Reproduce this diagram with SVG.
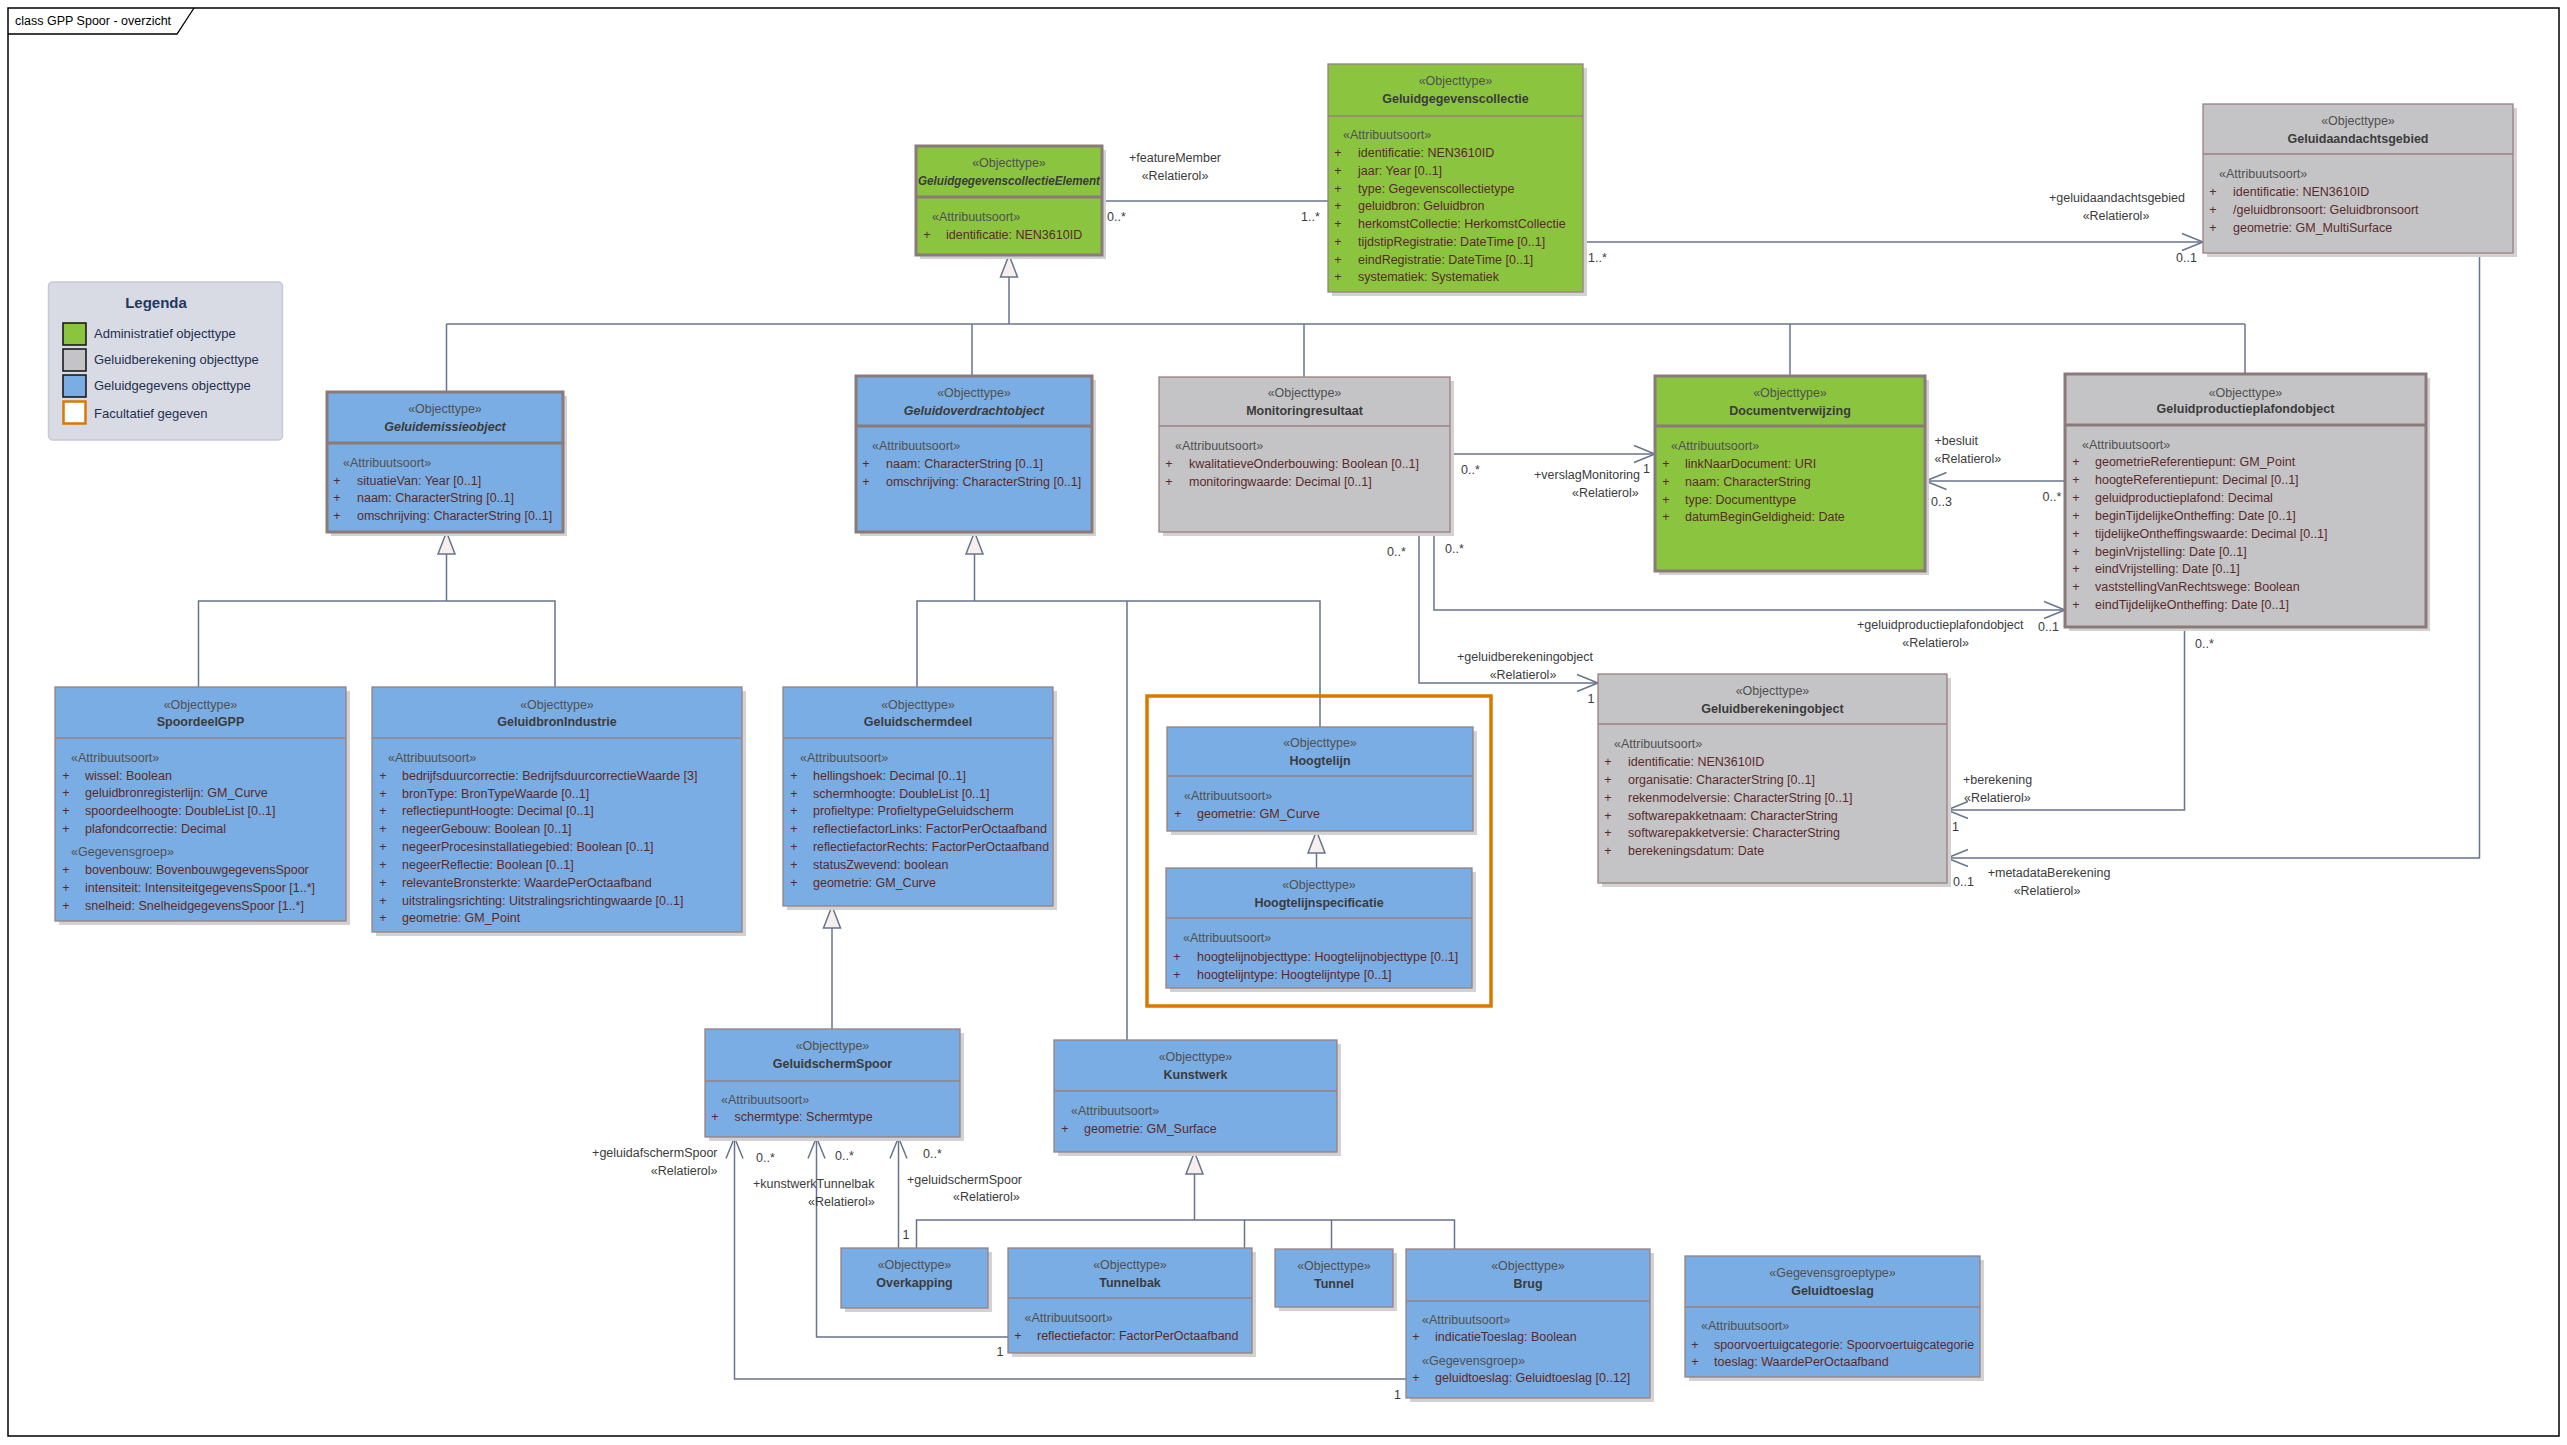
<svg xmlns="http://www.w3.org/2000/svg" width="2567" height="1445" viewBox="0 0 2567 1445">
<style>
text{font-family:"Liberation Sans",Arial,sans-serif;font-size:12.5px}
.st{fill:#505050;text-anchor:middle}
.nm{fill:#3b3b3b;font-weight:bold;text-anchor:middle}
.it{font-style:italic}
.sec{fill:#505050}
.pl{fill:#5a2a2a;text-anchor:middle}
.at{fill:#5a2a2a}
.lb{fill:#3b3b3b}
.lbm{fill:#3b3b3b;text-anchor:middle}
.sh{fill:#d2d2d2}
.g{fill:#8bc43f}
.b{fill:#7aade3}
.y{fill:#c4c4c6}
.thin{stroke:#9b8080;stroke-width:1.3}
.thick{stroke:#8b7a7a;stroke-width:3}
.dv{stroke:#9b8080;stroke-width:1.3}
.dvk{stroke:#8b7a7a;stroke-width:3}
.c{fill:none;stroke:#68738e;stroke-width:1.5}
.lg{font-size:13px;fill:#1f3050}
</style>
<defs>
<marker id="open" markerUnits="userSpaceOnUse" markerWidth="24" markerHeight="20" viewBox="0 0 24 20" refX="22" refY="10" orient="auto">
<path d="M1,1.5 L22,10 L1,18.5" fill="none" stroke="#68738e" stroke-width="1.5"/>
</marker>
<marker id="gen" markerUnits="userSpaceOnUse" markerWidth="26" markerHeight="20" viewBox="0 0 26 20" refX="23" refY="10" orient="auto">
<path d="M1,1.5 L23,10 L1,18.5 Z" fill="#f6efed" stroke="#68738e" stroke-width="1.5"/>
</marker>
</defs>
<rect x="0" y="0" width="2567" height="1445" fill="#ffffff"/>
<g id="frame">
<rect x="8" y="8" width="2551" height="1428" fill="#ffffff" stroke="#000" stroke-width="1.5"/>
<path d="M8,34 L177,34 L194,8" fill="none" stroke="#000" stroke-width="1.3"/>
<text x="15" y="25" fill="#000">class GPP Spoor - overzicht</text>
</g>

<g id="legenda">
<rect x="48.5" y="282" width="234" height="158" rx="4" fill="#d8dbe3" stroke="#c5c9d3" stroke-width="1.5"/>
<text x="156" y="308" text-anchor="middle" font-weight="bold" style="font-size:15px" fill="#1f3864">Legenda</text>
<rect x="63" y="323" width="23" height="22" fill="#8bc43f" stroke="#111" stroke-width="1.5"/>
<rect x="63" y="349" width="23" height="22" fill="#c4c4c6" stroke="#111" stroke-width="1.5"/>
<rect x="63" y="375" width="23" height="22" fill="#7aade3" stroke="#111" stroke-width="1.5"/>
<rect x="63.5" y="401.5" width="22" height="22" fill="#ffffff" stroke="#d97a00" stroke-width="2.5"/>
<text class="lg" x="94" y="338">Administratief objecttype</text>
<text class="lg" x="94" y="364">Geluidberekening objecttype</text>
<text class="lg" x="94" y="390">Geluidgegevens objecttype</text>
<text class="lg" x="94" y="418">Facultatief gegeven</text>
</g>

<g id="connectors">
<!-- generalizations top -->
<path class="c" d="M446.5,324 L2245,324"/>
<path class="c" d="M1009,324 L1009,255" marker-end="url(#gen)"/>
<path class="c" d="M446.5,324 L446.5,392"/>
<path class="c" d="M972,324 L972,376"/>
<path class="c" d="M1304,324 L1304,377"/>
<path class="c" d="M1790,324 L1790,376"/>
<path class="c" d="M2245,324 L2245,374"/>
<!-- Geluidemissieobject subtree -->
<path class="c" d="M446.5,601 L446.5,532" marker-end="url(#gen)"/>
<path class="c" d="M198.5,687 L198.5,601 L555,601 L555,687"/>
<!-- Geluidoverdrachtobject subtree -->
<path class="c" d="M974.5,601 L974.5,532" marker-end="url(#gen)"/>
<path class="c" d="M917,687 L917,601 L1320,601 L1320,727"/>
<path class="c" d="M1127,601 L1127,1040"/>
<!-- GeluidschermSpoor -> Geluidschermdeel -->
<path class="c" d="M832,1029 L832,906" marker-end="url(#gen)"/>
<!-- Hoogtelijnspecificatie -> Hoogtelijn -->
<path class="c" d="M1316.5,868 L1316.5,831" marker-end="url(#gen)"/>
<!-- Kunstwerk subtree -->
<path class="c" d="M1194.5,1220 L1194.5,1152" marker-end="url(#gen)"/>
<path class="c" d="M916.5,1248 L916.5,1220 L1454.5,1220 L1454.5,1249"/>
<path class="c" d="M1244.5,1220 L1244.5,1248"/>
<path class="c" d="M1331.5,1220 L1331.5,1249"/>

<!-- associations -->
<path class="c" d="M1102,201 L1328,201"/>
<text class="lbm" x="1175" y="162">+featureMember</text>
<text class="lbm" x="1175" y="180">«Relatierol»</text>
<text class="lb" x="1107" y="221">0..*</text>
<text class="lb" x="1301" y="221">1..*</text>

<path class="c" d="M1583,242 L2203,242" marker-end="url(#open)"/>
<text class="lb" x="1588" y="261.5">1..*</text>
<text class="lbm" x="2117" y="202">+geluidaandachtsgebied</text>
<text class="lbm" x="2116" y="219.5">«Relatierol»</text>
<text class="lb" x="2176" y="262">0..1</text>

<path class="c" d="M2479.5,253 L2479.5,858 L1947,858" marker-end="url(#open)"/>
<text class="lb" x="1953" y="886">0..1</text>
<text class="lbm" x="2049" y="877">+metadataBerekening</text>
<text class="lbm" x="2047" y="895">«Relatierol»</text>

<path class="c" d="M2184.5,627 L2184.5,810 L1947,810" marker-end="url(#open)"/>
<text class="lb" x="2195" y="648">0..*</text>
<text class="lb" x="1963" y="784">+berekening</text>
<text class="lb" x="1964" y="802">«Relatierol»</text>
<text class="lb" x="1952" y="830.5">1</text>

<path class="c" d="M2065,481 L1925.5,481" marker-end="url(#open)"/>
<text class="lb" x="1934.5" y="445">+besluit</text>
<text class="lb" x="1934.5" y="463">«Relatierol»</text>
<text class="lb" x="1931" y="506">0..3</text>
<text class="lb" x="2042.5" y="500.5">0..*</text>

<path class="c" d="M1450.5,454 L1655,454" marker-end="url(#open)"/>
<text class="lb" x="1461" y="474">0..*</text>
<text class="lb" x="1640" y="479" text-anchor="end">+verslagMonitoring</text>
<text class="lb" x="1572" y="497">«Relatierol»</text>
<text class="lb" x="1643" y="473">1</text>

<path class="c" d="M1434,532 L1434,610 L2065,610" marker-end="url(#open)"/>
<text class="lb" x="1445" y="553">0..*</text>
<text class="lb" x="2023.5" y="629" text-anchor="end">+geluidproductieplafondobject</text>
<text class="lb" x="1969" y="647" text-anchor="end">«Relatierol»</text>
<text class="lb" x="2038" y="631">0..1</text>

<path class="c" d="M1419,532 L1419,683 L1598,683" marker-end="url(#open)"/>
<text class="lb" x="1387" y="556">0..*</text>
<text class="lbm" x="1525" y="661">+geluidberekeningobject</text>
<text class="lbm" x="1523" y="679">«Relatierol»</text>
<text class="lb" x="1587.5" y="703">1</text>

<path class="c" d="M898.5,1248 L898.5,1137.5" marker-end="url(#open)"/>
<text class="lb" x="923" y="1158">0..*</text>
<text class="lb" x="907" y="1183.5">+geluidschermSpoor</text>
<text class="lb" x="953" y="1201">«Relatierol»</text>
<text class="lb" x="902.5" y="1238.5">1</text>

<path class="c" d="M1008,1337 L816.5,1337 L816.5,1137.5" marker-end="url(#open)"/>
<text class="lb" x="835" y="1159.5">0..*</text>
<text class="lb" x="753" y="1188">+kunstwerkTunnelbak</text>
<text class="lb" x="808" y="1206">«Relatierol»</text>
<text class="lb" x="996.5" y="1356">1</text>

<path class="c" d="M1406,1379 L734.5,1379 L734.5,1137.5" marker-end="url(#open)"/>
<text class="lb" x="756" y="1162">0..*</text>
<text class="lb" x="717.5" y="1157" text-anchor="end">+geluidafschermSpoor</text>
<text class="lb" x="717.5" y="1175" text-anchor="end">«Relatierol»</text>
<text class="lb" x="1394" y="1399">1</text>
</g>

<g id="n-GeluidgegevenscollectieElement">
<rect class="sh" x="920" y="150" width="186" height="109"/>
<rect class="g thick" x="916" y="146" width="186" height="109"/>
<line class="dvk" x1="916" y1="197" x2="1102" y2="197"/>
<text class="st" x="1009" y="167">«Objecttype»</text>
<text class="nm it" x="1009" y="185" textLength="182" lengthAdjust="spacingAndGlyphs">GeluidgegevenscollectieElement</text>
<text class="sec" x="932" y="221">«Attribuutsoort»</text>
<text class="pl" x="927" y="239">+</text><text class="at" x="946" y="239">identificatie: NEN3610ID</text>
</g>

<g id="n-Geluidgegevenscollectie">
<rect class="sh" x="1332" y="68" width="255" height="228"/>
<rect class="g thin" x="1328" y="64" width="255" height="228"/>
<line class="dv" x1="1328" y1="116" x2="1583" y2="116"/>
<text class="st" x="1455.5" y="85">«Objecttype»</text>
<text class="nm" x="1455.5" y="103">Geluidgegevenscollectie</text>
<text class="sec" x="1343" y="139">«Attribuutsoort»</text>
<text class="pl" x="1338" y="157">+</text><text class="at" x="1358" y="157">identificatie: NEN3610ID</text>
<text class="pl" x="1338" y="174.7">+</text><text class="at" x="1358" y="174.7">jaar: Year [0..1]</text>
<text class="pl" x="1338" y="192.5">+</text><text class="at" x="1358" y="192.5">type: Gegevenscollectietype</text>
<text class="pl" x="1338" y="210.2">+</text><text class="at" x="1358" y="210.2">geluidbron: Geluidbron</text>
<text class="pl" x="1338" y="228">+</text><text class="at" x="1358" y="228">herkomstCollectie: HerkomstCollectie</text>
<text class="pl" x="1338" y="245.7">+</text><text class="at" x="1358" y="245.7">tijdstipRegistratie: DateTime [0..1]</text>
<text class="pl" x="1338" y="263.5">+</text><text class="at" x="1358" y="263.5">eindRegistratie: DateTime [0..1]</text>
<text class="pl" x="1338" y="281.2">+</text><text class="at" x="1358" y="281.2">systematiek: Systematiek</text>
</g>

<g id="n-Geluidaandachtsgebied">
<rect class="sh" x="2207" y="108" width="310" height="149"/>
<rect class="y thin" x="2203" y="104" width="310" height="149"/>
<line class="dv" x1="2203" y1="154" x2="2513" y2="154"/>
<text class="st" x="2358" y="125">«Objecttype»</text>
<text class="nm" x="2358" y="142.5">Geluidaandachtsgebied</text>
<text class="sec" x="2219" y="178">«Attribuutsoort»</text>
<text class="pl" x="2213" y="196">+</text><text class="at" x="2233" y="196">identificatie: NEN3610ID</text>
<text class="pl" x="2213" y="214">+</text><text class="at" x="2233" y="214">/geluidbronsoort: Geluidbronsoort</text>
<text class="pl" x="2213" y="232">+</text><text class="at" x="2233" y="232">geometrie: GM_MultiSurface</text>
</g>

<g id="n-Geluidemissieobject">
<rect class="sh" x="331" y="396" width="236" height="140"/>
<rect class="b thick" x="327" y="392" width="236" height="140"/>
<line class="dvk" x1="327" y1="443" x2="563" y2="443"/>
<text class="st" x="445" y="413">«Objecttype»</text>
<text class="nm it" x="445" y="431">Geluidemissieobject</text>
<text class="sec" x="343" y="467">«Attribuutsoort»</text>
<text class="pl" x="337" y="485">+</text><text class="at" x="357" y="485">situatieVan: Year [0..1]</text>
<text class="pl" x="337" y="502">+</text><text class="at" x="357" y="502">naam: CharacterString [0..1]</text>
<text class="pl" x="337" y="520">+</text><text class="at" x="357" y="520">omschrijving: CharacterString [0..1]</text>
</g>

<g id="n-Geluidoverdrachtobject">
<rect class="sh" x="860" y="380" width="236" height="156"/>
<rect class="b thick" x="856" y="376" width="236" height="156"/>
<line class="dvk" x1="856" y1="426" x2="1092" y2="426"/>
<text class="st" x="974" y="397">«Objecttype»</text>
<text class="nm it" x="974" y="415">Geluidoverdrachtobject</text>
<text class="sec" x="872" y="450">«Attribuutsoort»</text>
<text class="pl" x="866" y="468">+</text><text class="at" x="886" y="468">naam: CharacterString [0..1]</text>
<text class="pl" x="866" y="486">+</text><text class="at" x="886" y="486">omschrijving: CharacterString [0..1]</text>
</g>

<g id="n-Monitoringresultaat">
<rect class="sh" x="1163" y="381" width="291" height="155"/>
<rect class="y thin" x="1159" y="377" width="291" height="155"/>
<line class="dv" x1="1159" y1="426" x2="1450" y2="426"/>
<text class="st" x="1304.5" y="397">«Objecttype»</text>
<text class="nm" x="1304.5" y="415">Monitoringresultaat</text>
<text class="sec" x="1175" y="450">«Attribuutsoort»</text>
<text class="pl" x="1169" y="468">+</text><text class="at" x="1189" y="468">kwalitatieveOnderbouwing: Boolean [0..1]</text>
<text class="pl" x="1169" y="486">+</text><text class="at" x="1189" y="486">monitoringwaarde: Decimal [0..1]</text>
</g>

<g id="n-Documentverwijzing">
<rect class="sh" x="1659" y="380" width="270" height="195"/>
<rect class="g thick" x="1655" y="376" width="270" height="195"/>
<line class="dvk" x1="1655" y1="426" x2="1925" y2="426"/>
<text class="st" x="1790" y="397">«Objecttype»</text>
<text class="nm" x="1790" y="415">Documentverwijzing</text>
<text class="sec" x="1671" y="450">«Attribuutsoort»</text>
<text class="pl" x="1666" y="468">+</text><text class="at" x="1685" y="468">linkNaarDocument: URI</text>
<text class="pl" x="1666" y="486">+</text><text class="at" x="1685" y="486">naam: CharacterString</text>
<text class="pl" x="1666" y="504">+</text><text class="at" x="1685" y="504">type: Documenttype</text>
<text class="pl" x="1666" y="521">+</text><text class="at" x="1685" y="521">datumBeginGeldigheid: Date</text>
</g>

<g id="n-Geluidproductieplafondobject">
<rect class="sh" x="2069" y="378" width="361" height="253"/>
<rect class="y thick" x="2065" y="374" width="361" height="253"/>
<line class="dvk" x1="2065" y1="425" x2="2426" y2="425"/>
<text class="st" x="2245.5" y="396.5">«Objecttype»</text>
<text class="nm" x="2245.5" y="413">Geluidproductieplafondobject</text>
<text class="sec" x="2082" y="449">«Attribuutsoort»</text>
<text class="pl" x="2076" y="466">+</text><text class="at" x="2095" y="466">geometrieReferentiepunt: GM_Point</text>
<text class="pl" x="2076" y="484">+</text><text class="at" x="2095" y="484">hoogteReferentiepunt: Decimal [0..1]</text>
<text class="pl" x="2076" y="502">+</text><text class="at" x="2095" y="502">geluidproductieplafond: Decimal</text>
<text class="pl" x="2076" y="520">+</text><text class="at" x="2095" y="520">beginTijdelijkeOntheffing: Date [0..1]</text>
<text class="pl" x="2076" y="538">+</text><text class="at" x="2095" y="538">tijdelijkeOntheffingswaarde: Decimal [0..1]</text>
<text class="pl" x="2076" y="556">+</text><text class="at" x="2095" y="556">beginVrijstelling: Date [0..1]</text>
<text class="pl" x="2076" y="573">+</text><text class="at" x="2095" y="573">eindVrijstelling: Date [0..1]</text>
<text class="pl" x="2076" y="591">+</text><text class="at" x="2095" y="591">vaststellingVanRechtswege: Boolean</text>
<text class="pl" x="2076" y="609">+</text><text class="at" x="2095" y="609">eindTijdelijkeOntheffing: Date [0..1]</text>
</g>

<g id="n-SpoordeelGPP">
<rect class="sh" x="59" y="691" width="291" height="234"/>
<rect class="b thin" x="55" y="687" width="291" height="234"/>
<line class="dv" x1="55" y1="738" x2="346" y2="738"/>
<text class="st" x="200.5" y="709">«Objecttype»</text>
<text class="nm" x="200.5" y="726">SpoordeelGPP</text>
<text class="sec" x="71" y="762">«Attribuutsoort»</text>
<text class="pl" x="66" y="780">+</text><text class="at" x="85" y="780">wissel: Boolean</text>
<text class="pl" x="66" y="797">+</text><text class="at" x="85" y="797">geluidbronregisterlijn: GM_Curve</text>
<text class="pl" x="66" y="815">+</text><text class="at" x="85" y="815">spoordeelhoogte: DoubleList [0..1]</text>
<text class="pl" x="66" y="833">+</text><text class="at" x="85" y="833">plafondcorrectie: Decimal</text>
<text class="sec" x="71" y="856">«Gegevensgroep»</text>
<text class="pl" x="66" y="874">+</text><text class="at" x="85" y="874">bovenbouw: BovenbouwgegevensSpoor</text>
<text class="pl" x="66" y="892">+</text><text class="at" x="85" y="892">intensiteit: IntensiteitgegevensSpoor [1..*]</text>
<text class="pl" x="66" y="910">+</text><text class="at" x="85" y="910">snelheid: SnelheidgegevensSpoor [1..*]</text>
</g>

<g id="n-GeluidbronIndustrie">
<rect class="sh" x="376" y="691" width="370" height="245"/>
<rect class="b thin" x="372" y="687" width="370" height="245"/>
<line class="dv" x1="372" y1="738" x2="742" y2="738"/>
<text class="st" x="557" y="709">«Objecttype»</text>
<text class="nm" x="557" y="726">GeluidbronIndustrie</text>
<text class="sec" x="388" y="762">«Attribuutsoort»</text>
<text class="pl" x="383" y="780">+</text><text class="at" x="402" y="780">bedrijfsduurcorrectie: BedrijfsduurcorrectieWaarde [3]</text>
<text class="pl" x="383" y="797.5">+</text><text class="at" x="402" y="797.5">bronType: BronTypeWaarde [0..1]</text>
<text class="pl" x="383" y="815">+</text><text class="at" x="402" y="815">reflectiepuntHoogte: Decimal [0..1]</text>
<text class="pl" x="383" y="833">+</text><text class="at" x="402" y="833">negeerGebouw: Boolean [0..1]</text>
<text class="pl" x="383" y="851">+</text><text class="at" x="402" y="851">negeerProcesinstallatiegebied: Boolean [0..1]</text>
<text class="pl" x="383" y="869">+</text><text class="at" x="402" y="869">negeerReflectie: Boolean [0..1]</text>
<text class="pl" x="383" y="886.5">+</text><text class="at" x="402" y="886.5">relevanteBronsterkte: WaardePerOctaafband</text>
<text class="pl" x="383" y="904.5">+</text><text class="at" x="402" y="904.5">uitstralingsrichting: Uitstralingsrichtingwaarde [0..1]</text>
<text class="pl" x="383" y="922">+</text><text class="at" x="402" y="922">geometrie: GM_Point</text>
</g>

<g id="n-Geluidschermdeel">
<rect class="sh" x="787" y="691" width="270" height="219"/>
<rect class="b thin" x="783" y="687" width="270" height="219"/>
<line class="dv" x1="783" y1="738" x2="1053" y2="738"/>
<text class="st" x="918" y="709">«Objecttype»</text>
<text class="nm" x="918" y="726">Geluidschermdeel</text>
<text class="sec" x="800" y="762">«Attribuutsoort»</text>
<text class="pl" x="794" y="780">+</text><text class="at" x="813" y="780">hellingshoek: Decimal [0..1]</text>
<text class="pl" x="794" y="797.5">+</text><text class="at" x="813" y="797.5">schermhoogte: DoubleList [0..1]</text>
<text class="pl" x="794" y="815">+</text><text class="at" x="813" y="815">profieltype: ProfieltypeGeluidscherm</text>
<text class="pl" x="794" y="833">+</text><text class="at" x="813" y="833" textLength="234" lengthAdjust="spacingAndGlyphs">reflectiefactorLinks: FactorPerOctaafband</text>
<text class="pl" x="794" y="851">+</text><text class="at" x="813" y="851" textLength="236" lengthAdjust="spacingAndGlyphs">reflectiefactorRechts: FactorPerOctaafband</text>
<text class="pl" x="794" y="869">+</text><text class="at" x="813" y="869">statusZwevend: boolean</text>
<text class="pl" x="794" y="886.5">+</text><text class="at" x="813" y="886.5">geometrie: GM_Curve</text>
</g>

<g id="n-Facultatief">
<rect x="1147" y="696" width="344" height="310" fill="none" stroke="#d97a00" stroke-width="3.5"/>
</g>

<g id="n-Hoogtelijn">
<rect class="sh" x="1171" y="731" width="306" height="104"/>
<rect class="b thin" x="1167" y="727" width="306" height="104"/>
<line class="dv" x1="1167" y1="776" x2="1473" y2="776"/>
<text class="st" x="1320" y="747">«Objecttype»</text>
<text class="nm" x="1320" y="765">Hoogtelijn</text>
<text class="sec" x="1184" y="800">«Attribuutsoort»</text>
<text class="pl" x="1178" y="818">+</text><text class="at" x="1197" y="818">geometrie: GM_Curve</text>
</g>

<g id="n-Hoogtelijnspecificatie">
<rect class="sh" x="1170" y="872" width="306" height="120"/>
<rect class="b thin" x="1166" y="868" width="306" height="120"/>
<line class="dv" x1="1166" y1="918" x2="1472" y2="918"/>
<text class="st" x="1319" y="889">«Objecttype»</text>
<text class="nm" x="1319" y="907">Hoogtelijnspecificatie</text>
<text class="sec" x="1183" y="942">«Attribuutsoort»</text>
<text class="pl" x="1177" y="960.5">+</text><text class="at" x="1197" y="960.5">hoogtelijnobjecttype: Hoogtelijnobjecttype [0..1]</text>
<text class="pl" x="1177" y="978.5">+</text><text class="at" x="1197" y="978.5">hoogtelijntype: Hoogtelijntype [0..1]</text>
</g>

<g id="n-Geluidberekeningobject">
<rect class="sh" x="1602" y="678" width="349" height="209"/>
<rect class="y thin" x="1598" y="674" width="349" height="209"/>
<line class="dv" x1="1598" y1="724" x2="1947" y2="724"/>
<text class="st" x="1772.5" y="695">«Objecttype»</text>
<text class="nm" x="1772.5" y="713">Geluidberekeningobject</text>
<text class="sec" x="1614" y="748">«Attribuutsoort»</text>
<text class="pl" x="1608" y="766">+</text><text class="at" x="1628" y="766">identificatie: NEN3610ID</text>
<text class="pl" x="1608" y="784">+</text><text class="at" x="1628" y="784">organisatie: CharacterString [0..1]</text>
<text class="pl" x="1608" y="802">+</text><text class="at" x="1628" y="802">rekenmodelversie: CharacterString [0..1]</text>
<text class="pl" x="1608" y="819.5">+</text><text class="at" x="1628" y="819.5">softwarepakketnaam: CharacterString</text>
<text class="pl" x="1608" y="837">+</text><text class="at" x="1628" y="837">softwarepakketversie: CharacterString</text>
<text class="pl" x="1608" y="855">+</text><text class="at" x="1628" y="855">berekeningsdatum: Date</text>
</g>

<g id="n-GeluidschermSpoor">
<rect class="sh" x="709" y="1033" width="255" height="108"/>
<rect class="b thin" x="705" y="1029" width="255" height="108"/>
<line class="dv" x1="705" y1="1081" x2="960" y2="1081"/>
<text class="st" x="832.5" y="1050">«Objecttype»</text>
<text class="nm" x="832.5" y="1068">GeluidschermSpoor</text>
<text class="sec" x="721" y="1104">«Attribuutsoort»</text>
<text class="pl" x="715" y="1121">+</text><text class="at" x="734.5" y="1121">schermtype: Schermtype</text>
</g>

<g id="n-Kunstwerk">
<rect class="sh" x="1058" y="1044" width="283" height="112"/>
<rect class="b thin" x="1054" y="1040" width="283" height="112"/>
<line class="dv" x1="1054" y1="1091" x2="1337" y2="1091"/>
<text class="st" x="1195.5" y="1061">«Objecttype»</text>
<text class="nm" x="1195.5" y="1079">Kunstwerk</text>
<text class="sec" x="1071" y="1115">«Attribuutsoort»</text>
<text class="pl" x="1065" y="1132.5">+</text><text class="at" x="1084" y="1132.5">geometrie: GM_Surface</text>
</g>

<g id="n-Overkapping">
<rect class="sh" x="845" y="1252" width="147" height="60"/>
<rect class="b thin" x="841" y="1248" width="147" height="60"/>
<text class="st" x="914.5" y="1269">«Objecttype»</text>
<text class="nm" x="914.5" y="1287">Overkapping</text>
</g>

<g id="n-Tunnelbak">
<rect class="sh" x="1012" y="1252" width="244" height="105"/>
<rect class="b thin" x="1008" y="1248" width="244" height="105"/>
<line class="dv" x1="1008" y1="1298" x2="1252" y2="1298"/>
<text class="st" x="1130" y="1269">«Objecttype»</text>
<text class="nm" x="1130" y="1287">Tunnelbak</text>
<text class="sec" x="1024.5" y="1322">«Attribuutsoort»</text>
<text class="pl" x="1018" y="1340">+</text><text class="at" x="1037" y="1340">reflectiefactor: FactorPerOctaafband</text>
</g>

<g id="n-Tunnel">
<rect class="sh" x="1279" y="1253" width="118" height="58"/>
<rect class="b thin" x="1275" y="1249" width="118" height="58"/>
<text class="st" x="1334" y="1270">«Objecttype»</text>
<text class="nm" x="1334" y="1288">Tunnel</text>
</g>

<g id="n-Brug">
<rect class="sh" x="1410" y="1253" width="244" height="149"/>
<rect class="b thin" x="1406" y="1249" width="244" height="149"/>
<line class="dv" x1="1406" y1="1301" x2="1650" y2="1301"/>
<text class="st" x="1528" y="1270">«Objecttype»</text>
<text class="nm" x="1528" y="1288">Brug</text>
<text class="sec" x="1422" y="1324">«Attribuutsoort»</text>
<text class="pl" x="1416" y="1341">+</text><text class="at" x="1435" y="1341">indicatieToeslag: Boolean</text>
<text class="sec" x="1422" y="1365">«Gegevensgroep»</text>
<text class="pl" x="1416" y="1382">+</text><text class="at" x="1435" y="1382">geluidtoeslag: Geluidtoeslag [0..12]</text>
</g>

<g id="n-Geluidtoeslag">
<rect class="sh" x="1689" y="1260" width="295" height="121"/>
<rect class="b thin" x="1685" y="1256" width="295" height="121"/>
<line class="dv" x1="1685" y1="1307" x2="1980" y2="1307"/>
<text class="st" x="1832.5" y="1277">«Gegevensgroeptype»</text>
<text class="nm" x="1832.5" y="1295">Geluidtoeslag</text>
<text class="sec" x="1701" y="1330">«Attribuutsoort»</text>
<text class="pl" x="1695" y="1348.5">+</text><text class="at" x="1714" y="1348.5" textLength="260" lengthAdjust="spacingAndGlyphs">spoorvoertuigcategorie: Spoorvoertuigcategorie</text>
<text class="pl" x="1695" y="1366">+</text><text class="at" x="1714" y="1366">toeslag: WaardePerOctaafband</text>
</g>
</svg>
